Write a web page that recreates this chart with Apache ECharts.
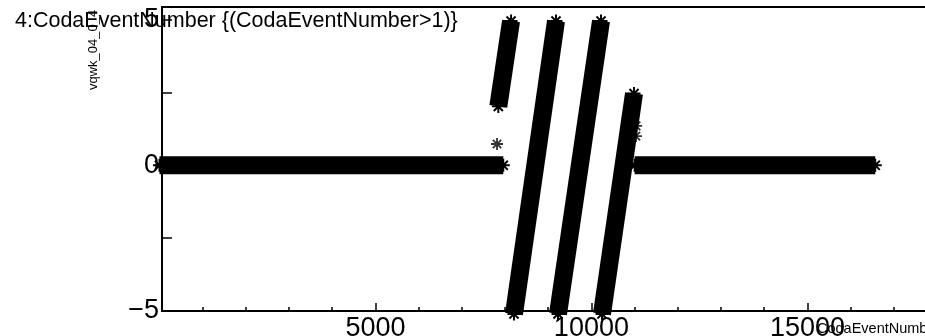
<!DOCTYPE html>
<html>
<head>
<meta charset="utf-8">
<script src="https://cdn.jsdelivr.net/npm/echarts@6/dist/echarts.min.js"></script>
<style>
  html, body { margin: 0; padding: 0; background: #fff; overflow: hidden; }
  #chart { width: 925px; height: 336px; }
</style>
</head>
<body>
<div id="chart"></div>
<script>
// vqwk_04_0_4 against CodaEventNumber, for events with CodaEventNumber > 1

// Runs where the channel sits at a constant level: [first event, last event, value]
const levelRuns = [
  [2, 7960, 0],
  [11000, 16570, 0]
];

// Runs where the channel ramps: [start event, start value, end event, end value]
const rampRuns = [
  [7845, 2.02, 8140, 4.95],
  [8208, -5.1, 9180, 4.95],
  [9227, -5.1, 10222, 4.95],
  [10245, -5.1, 10986, 2.46]
];

// Isolated events off the runs
const strayEvents = [7815, 11035, 11030];
const strayValues = [0.73, 1.35, 1.0];

// Axis ticks and labels
const xMajorTicks = [5000, 10000, 15000];
const xMinorTicks = [1000, 2000, 3000, 4000, 6000, 7000, 8000, 9000, 11000, 12000, 13000, 14000, 16000, 17000, 18000];
const yTicks = [-5, -2.5, 0, 2.5, 5];
const yLabels = [-5, 0, 5];

const xRange = [60, 18069];
const yRange = [-5, 5.43];

// Asterisk marker made of four bars
const ASTERISK = 'path://M8.5 0H11.5V20H8.5Z M0 8.5H20V11.5H0Z ' +
  'M4.06 1.94L18.06 15.94L15.94 18.06L1.94 4.06Z ' +
  'M18.06 4.06L4.06 18.06L1.94 15.94L15.94 1.94Z';

const FONT = '"Liberation Sans", Arial, Helvetica, sans-serif';
const BAND = 18;
const MARK = 13;

function runSeries(points) {
  return {
    type: 'line',
    data: points,
    clip: false,
    symbol: ASTERISK,
    symbolSize: MARK,
    showSymbol: true,
    itemStyle: { color: '#000' },
    lineStyle: { color: '#000', width: BAND, cap: 'butt' },
    emphasis: { disabled: true },
    animation: false
  };
}

const series = [];
levelRuns.forEach(function (r) {
  series.push(runSeries([[r[0], r[2]], [r[1], r[2]]]));
});
rampRuns.forEach(function (r) {
  series.push(runSeries([[r[0], r[1]], [r[2], r[3]]]));
});
series.push({
  type: 'scatter',
  data: strayEvents.map(function (e, i) { return [e, strayValues[i]]; }),
  clip: false,
  symbol: ASTERISK,
  symbolSize: 12,
  itemStyle: { color: '#000' },
  emphasis: { disabled: true },
  animation: false
});

function fmtY(v) {
  return v < 0 ? '\u2212' + Math.abs(v) : String(v);
}

const chart = echarts.init(document.getElementById('chart'), null, { renderer: 'canvas' });
chart.setOption({
  backgroundColor: '#fff',
  animation: false,
  title: {
    text: '4:CodaEventNumber {(CodaEventNumber>1)}',
    left: 15,
    top: 10,
    padding: 0,
    textStyle: { fontFamily: FONT, fontSize: 21.5, fontWeight: 'normal', color: '#000' }
  },
  grid: {
    left: 162, top: 7, width: 778, height: 304,
    outerBoundsMode: 'none',
    show: true, borderColor: '#000', borderWidth: 2,
    containLabel: false
  },
  xAxis: [
    {
      type: 'value', position: 'bottom', min: xRange[0], max: xRange[1],
      axisLine: { show: true, onZero: false, lineStyle: { color: '#000', width: 2 } },
      axisTick: { show: true, inside: true, length: 8, customValues: xMajorTicks, lineStyle: { color: '#000', width: 1.5 } },
      axisLabel: { show: true, customValues: xMajorTicks, margin: 4, color: '#000', fontFamily: FONT, fontSize: 27,
        formatter: function (v) { return String(v); } },
      splitLine: { show: false }
    },
    {
      type: 'value', position: 'bottom', min: xRange[0], max: xRange[1],
      axisLine: { show: false, onZero: false },
      axisTick: { show: true, inside: true, length: 4, customValues: xMinorTicks, lineStyle: { color: '#000', width: 1.5 } },
      axisLabel: { show: false },
      splitLine: { show: false }
    }
  ],
  yAxis: {
    type: 'value', min: yRange[0], max: yRange[1],
    axisLine: { show: true, onZero: false, lineStyle: { color: '#000', width: 2 } },
    axisTick: { show: true, inside: true, length: 10, customValues: yTicks, lineStyle: { color: '#000', width: 1.5 } },
    axisLabel: { show: true, customValues: yLabels, margin: 3, color: '#000', fontFamily: FONT, fontSize: 27, formatter: fmtY },
    splitLine: { show: false }
  },
  graphic: [
    {
      type: 'text', x: 93, y: 50, rotation: Math.PI / 2, z: 10,
      style: { text: 'vqwk_04_0_4', fill: '#000', font: '13px ' + FONT, textAlign: 'center', textVerticalAlign: 'middle' }
    },
    {
      type: 'text', x: 817, y: 329, z: 10,
      style: { text: 'CodaEventNumber', fill: '#000', font: '14.5px ' + FONT, textAlign: 'left', textVerticalAlign: 'middle' }
    }
  ],
  series: series
});
</script>
</body>
</html>
